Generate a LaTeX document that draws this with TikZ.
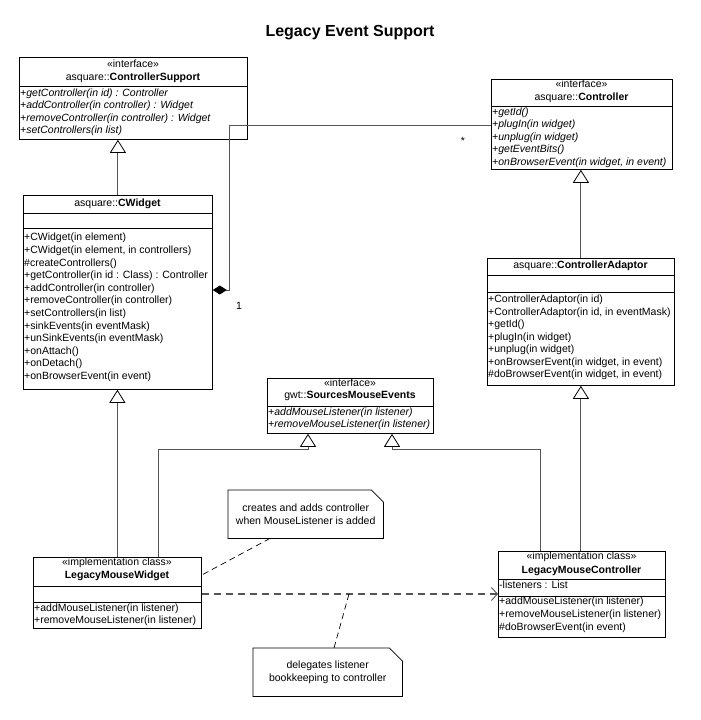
\documentclass[tikz,border=0pt]{standalone}
\usepackage{fontspec}
\setmainfont{Liberation Sans}
\usetikzlibrary{arrows.meta,calc}
\definecolor{conncol}{RGB}{85,85,85}
\begin{document}
\begin{tikzpicture}[x=1pt,y=-1pt,
  umlbox/.style={draw=black,line width=0.8pt,inner sep=0pt,anchor=north west},
  txt/.style={font=\fontsize{10.5}{12}\selectfont,inner sep=0pt,text height=7.5pt,text depth=2.2pt},
  op/.style={txt,anchor=west},
  iop/.style={txt,anchor=west,font=\fontsize{10.5}{12}\selectfont\itshape},
  ctr/.style={txt,anchor=center},
  sepline/.style={draw=black,line width=0.8pt},
  connline/.style={draw=conncol,line width=0.9pt},
  gen/.style={connline,-{Triangle[open,length=13pt,width=16pt,fill=white,color=black,line width=0.8pt]}},
  comp/.style={connline,-{Diamond[length=14pt,width=9pt,fill=black,color=black]}},
  dep/.style={draw=conncol,line width=1.3pt,dash pattern=on 7pt off 5pt,-{Straight Barb[length=6pt,width=13pt,line width=0.9pt]}},
  anchorline/.style={draw=black,line width=0.7pt,dash pattern=on 6pt off 4pt},
  notebox/.style={inner sep=0pt,anchor=north west,align=center,font=\fontsize{10.5}{12.6}\selectfont},
  noteline/.style={draw=black,line width=0.8pt}
]
\useasboundingbox (0,0) rectangle (701,720);

% title
\node[inner sep=0pt,font=\fontsize{16}{19}\selectfont\bfseries] (title) at (350,33) {Legacy Event Support};

% ControllerSupport
\node[umlbox,minimum width=228pt,minimum height=82pt] (CS) at (19,57) {};
\draw[sepline] (19,86) -- (247,86);
\node[ctr] (CSst) at (133,65) {«interface»};
\node[ctr] (CSnm) at (133,78) {asquare::\textbf{ControllerSupport}};
\foreach \t [count=\i from 0] in {{+getController(in id) : Controller},{+addController(in controller) : Widget},{+removeController(in controller) : Widget},{+setControllers(in list)}}
  \node[iop] (CSop\i) at (20,93.7+12.5*\i) {\t};

% Controller
\node[umlbox,minimum width=181pt,minimum height=90pt] (Ctl) at (491,79) {};
\draw[sepline] (491,106) -- (672,106);
\node[ctr] (Ctlst) at (581.5,85) {«interface»};
\node[ctr] (Ctlnm) at (581.5,98) {asquare::\textbf{Controller}};
\foreach \t [count=\i from 0] in {{+getId()},{+plugIn(in widget)},{+unplug(in widget)},{+getEventBits()},{+onBrowserEvent(in widget, in event)}}
  \node[iop] (Ctlop\i) at (492,112.5+12.6*\i) {\t};

% CWidget
\node[umlbox,minimum width=189pt,minimum height=194pt] (CW) at (23,195) {};
\draw[sepline] (23,213) -- (212,213);
\draw[sepline] (23,228) -- (212,228);
\node[ctr] (CWnm) at (117.5,204) {asquare::\textbf{CWidget}};
\foreach \t [count=\i from 0] in {{+CWidget(in element)},{+CWidget(in element, in controllers)},{\#createControllers()},{+getController(in id : Class) : Controller},{+addController(in controller)},{+removeController(in controller)},{+setControllers(in list)},{+sinkEvents(in eventMask)},{+unSinkEvents(in eventMask)},{+onAttach()},{+onDetach()},{+onBrowserEvent(in event)}}
  \node[op] (CWop\i) at (24,238.3+12.6*\i) {\t};

% ControllerAdaptor
\node[umlbox,minimum width=187pt,minimum height=127pt] (CA) at (487,258) {};
\draw[sepline] (487,275) -- (674,275);
\draw[sepline] (487,292) -- (674,292);
\node[ctr] (CAnm) at (580.5,266) {asquare::\textbf{ControllerAdaptor}};
\foreach \t [count=\i from 0] in {{+ControllerAdaptor(in id)},{+ControllerAdaptor(in id, in eventMask)},{+getId()},{+plugIn(in widget)},{+unplug(in widget)},{+onBrowserEvent(in widget, in event)},{\#doBrowserEvent(in widget, in event)}}
  \node[op] (CAop\i) at (488,300+12.5*\i) {\t};

% SourcesMouseEvents
\node[umlbox,minimum width=166pt,minimum height=55pt] (SME) at (267,378) {};
\draw[sepline] (267,406) -- (433,406);
\node[ctr] (SMEst) at (350,384) {«interface»};
\node[ctr] (SMEnm) at (350,396) {gwt::\textbf{SourcesMouseEvents}};
\node[iop] (SMEop0) at (268,413) {+addMouseListener(in listener)};
\node[iop] (SMEop1) at (268,425) {+removeMouseListener(in listener)};

% LegacyMouseWidget
\node[umlbox,minimum width=168pt,minimum height=71pt] (LMW) at (33,557) {};
\draw[sepline] (33,586) -- (201,586);
\draw[sepline] (33,602) -- (201,602);
\node[ctr] (LMWst) at (117,563) {«implementation class»};
\node[ctr] (LMWnm) at (117,576) {\textbf{LegacyMouseWidget}};
\node[op] (LMWop0) at (34,609) {+addMouseListener(in listener)};
\node[op] (LMWop1) at (34,621) {+removeMouseListener(in listener)};

% LegacyMouseController
\node[umlbox,minimum width=167pt,minimum height=86pt] (LMC) at (498,551) {};
\draw[sepline] (498,579) -- (665,579);
\draw[sepline] (498,596) -- (665,596);
\node[ctr] (LMCst) at (581.5,557) {«implementation class»};
\node[ctr] (LMCnm) at (581.5,571) {\textbf{LegacyMouseController}};
\node[op] (LMCat0) at (499,586) {-listeners : List};
\node[op] (LMCop0) at (499,602) {+addMouseListener(in listener)};
\node[op] (LMCop1) at (499,615) {+removeMouseListener(in listener)};
\node[op] (LMCop2) at (499,628) {\#doBrowserEvent(in event)};

% notes
\node[notebox,minimum width=155pt,minimum height=48pt] (N1) at (228,490) {creates and adds controller\\when MouseListener is added};
\draw[noteline] (N1.north west) -- ($(N1.north east)+(-12,0)$) -- ($(N1.north east)+(0,12)$) -- (N1.south east) -- (N1.south west) -- cycle;
\node[notebox,minimum width=149pt,minimum height=48pt] (N2) at (253,648) {delegates listener\\bookkeeping to controller};
\draw[noteline] (N2.north west) -- ($(N2.north east)+(-13,0)$) -- ($(N2.north east)+(0,13)$) -- (N2.south east) -- (N2.south west) -- cycle;

% generalizations
\draw[gen] (CW.north) -- (CW.north |- CS.south);
\draw[gen] (LMW.north) -- (LMW.north |- CW.south);
\draw[gen] (CA.north) -- (CA.north |- Ctl.south);
\draw[gen] (CA.south |- LMC.north) -- (CA.south);
\draw[gen] (LMW.north -| 158,0) |- (308,449) -- (SME.south -| 308,0);
\draw[gen] (LMC.north -| 540,0) |- (392,449) -- (SME.south -| 392,0);

% composition
\draw[comp] (Ctl.west |- 0,125) -- (229,125) -- (229,290) -- (CW.east |- 0,290);
\node[inner sep=0pt,font=\fontsize{10.5}{12}\selectfont] (mstar) at (463,141) {*};
\node[inner sep=0pt,font=\fontsize{10.5}{12}\selectfont] (mone) at (239,306) {1};

% dependency
\coordinate (depA) at (LMW.east |- 0,594);
\coordinate (depB) at (LMC.west |- 0,594);
\draw[dep] (depA) -- (depB);
\coordinate (depmid) at (349,594);

% note anchors
\draw[anchorline] ($(N1.south west)+(42,0)$) -- (LMW.east |- 0,575);
\draw[anchorline] ($(N2.north west)+(81,0)$) -- (depmid);
\end{tikzpicture}
\end{document}
